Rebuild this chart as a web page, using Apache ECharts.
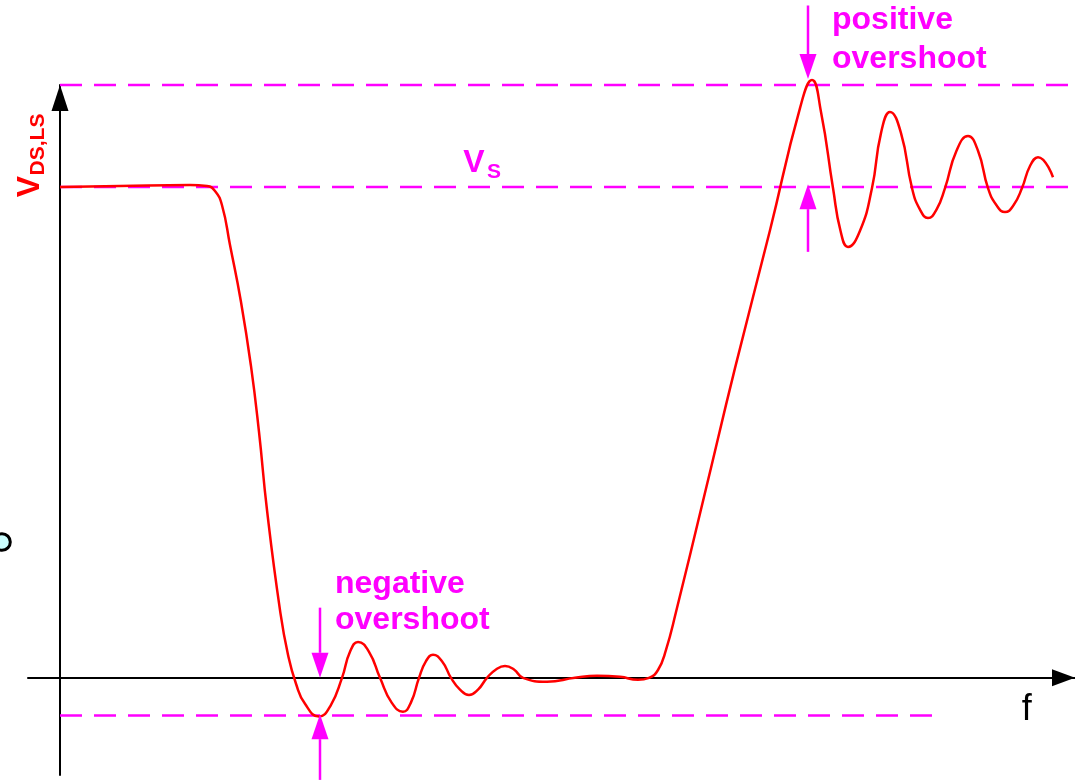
<!DOCTYPE html>
<html>
<head>
<meta charset="utf-8">
<script src="https://cdn.jsdelivr.net/npm/echarts@6/dist/echarts.min.js"></script>
<style>
  html, body { margin: 0; padding: 0; background: #ffffff; }
  #chart { width: 1075px; height: 780px; }
</style>
</head>
<body>
<div id="chart"></div>
<script>
// Switching waveform of V_DS,LS: time (arbitrary units) and voltage normalised to V_S
const timeValues = [
  0.00, 0.60, 1.30, 1.47, 1.55, 1.62, 1.70, 1.81, 1.91, 1.99,
  2.07, 2.20, 2.28, 2.36, 2.45, 2.59, 2.705, 2.82, 2.90, 2.98, 3.09,
  3.20, 3.315, 3.43, 3.51, 3.59, 3.66, 3.73, 3.82, 3.91, 4.00,
  4.09, 4.18, 4.27, 4.36, 4.45, 4.54, 4.63, 4.87, 5.15, 5.37,
  5.60, 5.78, 5.89, 5.98, 6.06, 6.16, 6.45, 6.75, 7.10, 7.40,
  7.52, 7.61, 7.73, 7.805, 7.88, 8.00, 8.12, 8.21, 8.30, 8.41,
  8.52, 8.60, 8.68, 8.765, 8.85, 8.965, 9.08, 9.18, 9.28, 9.365,
  9.45, 9.535, 9.62, 9.70, 9.78, 9.93
];
const voltageValues = [
  1.000, 1.002, 1.004, 1.002, 0.992, 0.963, 0.882, 0.766, 0.635, 0.501,
  0.342, 0.138, 0.047, -0.012, -0.053, -0.079, -0.057, 0.000, 0.053, 0.073, 0.053,
  0.000, -0.050, -0.069, -0.050, 0.000, 0.034, 0.047, 0.034, 0.000, -0.024,
  -0.035, -0.024, 0.000, 0.017, 0.024, 0.017, 0.000, -0.008, 0.000, 0.004,
  0.002, -0.004, 0.000, 0.016, 0.057, 0.134, 0.377, 0.631, 0.912, 1.161,
  1.218, 1.153, 0.998, 0.911, 0.878, 0.911, 0.998, 1.110, 1.153, 1.110,
  0.998, 0.954, 0.937, 0.954, 0.998, 1.074, 1.104, 1.074, 0.998, 0.963,
  0.949, 0.963, 0.998, 1.043, 1.061, 1.020
];

// Reference levels: positive overshoot, V_S, negative overshoot
const levelValues = [1.208, 1.000, -0.077];
const levelStart = [0, 0, 0];
const levelEnd = [10.15, 10.15, 8.80];

// Marker arrows: x position, tail level, tip level
const arrowX = [2.60, 2.60, 7.48, 7.48];
const arrowTail = [0.143, -0.208, 1.370, 0.868];
const arrowTip = [0.000, -0.074, 1.220, 1.006];

const RED = '#ff0000';
const MAGENTA = '#ff00ff';
const FONT = '"Liberation Sans", Arial, Helvetica, sans-serif';

const chart = echarts.init(document.getElementById('chart'), null, { renderer: 'canvas' });

function textEl(x, y, text, size, weight, color, align, rotation) {
  return {
    type: 'text', x: x, y: y, rotation: rotation || 0, silent: true,
    style: {
      text: text, fill: color,
      font: weight + ' ' + size + 'px ' + FONT,
      align: align, textAlign: align,
      verticalAlign: 'middle', textVerticalAlign: 'middle'
    }
  };
}

const option = {
  animation: false,
  backgroundColor: '#ffffff',
  grid: { left: 28, right: 0, top: 85, bottom: 5, containLabel: false, outerBoundsMode: 'none' },
  xAxis: {
    type: 'value', min: -0.32, max: 10.15,
    axisLine: {
      onZero: true,
      lineStyle: { color: '#000000', width: 2 },
      symbol: ['none', 'triangle'], symbolSize: [17, 23], symbolOffset: [0, -11.5]
    },
    axisTick: { show: false }, axisLabel: { show: false }, splitLine: { show: false }
  },
  yAxis: {
    type: 'value', min: -0.198, max: 1.208,
    axisLine: {
      onZero: true,
      lineStyle: { color: '#000000', width: 2 },
      symbol: ['none', 'triangle'], symbolSize: [17, 26], symbolOffset: [0, -13]
    },
    axisTick: { show: false }, axisLabel: { show: false }, splitLine: { show: false }
  },
  series: [
    {
      name: 'levels', type: 'custom', coordinateSystem: 'cartesian2d', clip: false, z: 2,
      encode: { x: [0, 2], y: 1 },
      data: levelValues.map((v, i) => [levelStart[i], v, levelEnd[i]]),
      renderItem: function (params, api) {
        const a = api.coord([api.value(0), api.value(1)]);
        const b = api.coord([api.value(2), api.value(1)]);
        return {
          type: 'line',
          shape: { x1: a[0], y1: a[1], x2: b[0], y2: b[1] },
          style: { stroke: MAGENTA, lineWidth: 2.5, lineDash: [22, 12], fill: null }
        };
      }
    },
    {
      name: 'markers', type: 'custom', coordinateSystem: 'cartesian2d', clip: false, z: 4,
      encode: { x: 0, y: [1, 2] },
      data: arrowX.map((x, i) => [x, arrowTail[i], arrowTip[i]]),
      renderItem: function (params, api) {
        const tail = api.coord([api.value(0), api.value(1)]);
        const tip = api.coord([api.value(0), api.value(2)]);
        const dir = tip[1] < tail[1] ? -1 : 1;
        const headLen = 25, headHalf = 8.5;
        const neckY = tip[1] - dir * headLen;
        return {
          type: 'group',
          children: [
            {
              type: 'line',
              shape: { x1: tail[0], y1: tail[1], x2: tip[0], y2: neckY },
              style: { stroke: MAGENTA, lineWidth: 2.5 }
            },
            {
              type: 'polygon',
              shape: { points: [[tip[0], tip[1]], [tip[0] - headHalf, neckY], [tip[0] + headHalf, neckY]] },
              style: { fill: MAGENTA }
            }
          ]
        };
      }
    },
    {
      name: 'V_DS,LS', type: 'line', clip: false, z: 3,
      showSymbol: false, symbol: 'none', smooth: 0.5,
      lineStyle: { color: RED, width: 2.5 },
      data: timeValues.map((t, i) => [t, voltageValues[i]])
    }
  ],
  graphic: {
    elements: [
      textEl(30, 186.5, 'V', 32, 'bold', RED, 'center', Math.PI / 2),
      textEl(38, 144.5, 'DS,LS', 21, 'bold', RED, 'center', Math.PI / 2),
      textEl(474, 163.5, 'V', 32, 'bold', MAGENTA, 'center'),
      textEl(494, 172.5, 'S', 21, 'bold', MAGENTA, 'center'),
      textEl(832, 20, 'positive', 32, 'bold', MAGENTA, 'left'),
      textEl(832, 58.9, 'overshoot', 32, 'bold', MAGENTA, 'left'),
      textEl(335, 584, 'negative', 32, 'bold', MAGENTA, 'left'),
      textEl(335, 620.6, 'overshoot', 32, 'bold', MAGENTA, 'left'),
      textEl(1026.7, 710, 'f', 36, 'normal', '#000000', 'center'),
      {
        type: 'circle', silent: true,
        shape: { cx: 2, cy: 542, r: 8.3 },
        style: { fill: '#ccffff', stroke: '#000000', lineWidth: 3 }
      }
    ]
  }
};

chart.setOption(option);
</script>
</body>
</html>
